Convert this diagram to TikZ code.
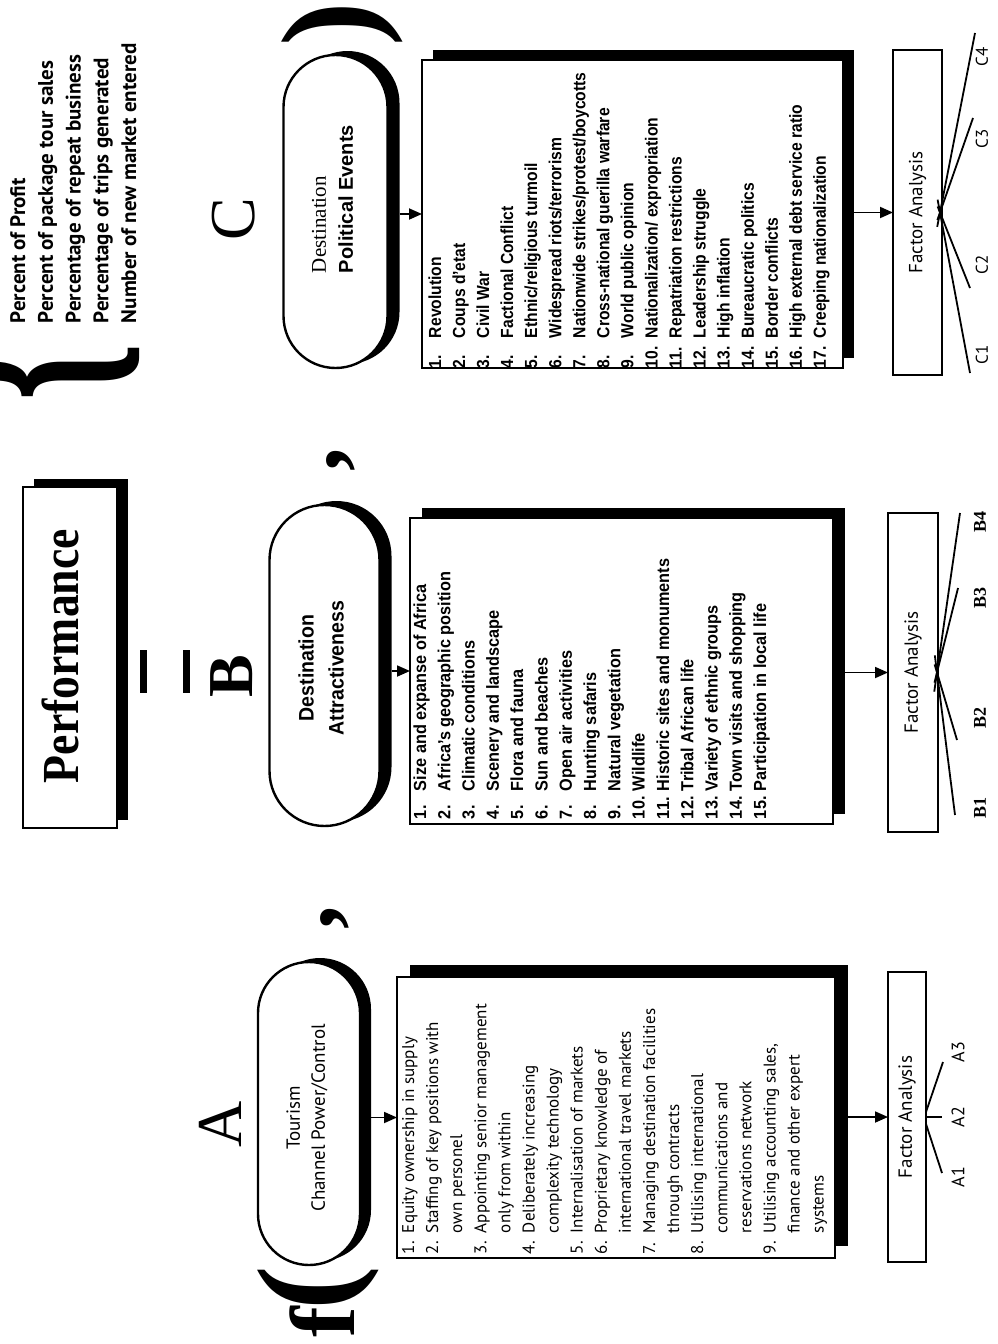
\documentclass[tikz,border=0pt]{standalone}
\usepackage{fontspec}
\setmainfont{Liberation Serif}
\newfontfamily\humsans{PT Sans}
\newfontfamily\condsans[FakeStretch=0.93]{Liberation Sans}
\newfontfamily\narrowsans[FakeStretch=0.895]{Liberation Sans}
\newfontfamily\plainsans{Liberation Sans}
\newfontfamily\titleserif[FakeStretch=0.88]{Liberation Serif}
\usetikzlibrary{arrows.meta,shadows,calc}
\newcommand\itemno[2]{\makebox[#1][l]{#2}}
\newcommand\fs[2]{\fontsize{#1}{#2}\selectfont}

\begin{document}
\begin{tikzpicture}[x=1pt,y=1pt,
  frame/.style={draw, line width=2.4pt, fill=white, inner sep=0pt, outer sep=0pt},
  blackshadow/.style 2 args={drop shadow={shadow xshift=#1, shadow yshift=#2, fill=black, opacity=1}},
  upright/.style={rotate=90, inner sep=0pt, outer sep=0pt},
  arr/.style={line width=1.8pt, -{Triangle[length=13pt,width=11pt]}},
  fan/.style={line width=1.8pt},
  biglet/.style={upright, font=\fs{64}{64}},
  listA/.style={upright, anchor=base west, font=\humsans\fs{17}{24.1}},
  listB/.style={upright, anchor=base west, font=\condsans\bfseries\fs{17.5}{24.3}},
  listC/.style={upright, anchor=base west, font=\narrowsans\bfseries\fs{17.5}{24.06}},
  falabel/.style={upright, font=\humsans\fs{19}{19}},
  lblA/.style={upright, font=\humsans\fs{18}{18}},
  lblB/.style={upright, font=\bfseries\fs{18}{18}},
  lblC/.style={upright, font=\humsans\fs{17}{17}}]

\fill[white] (0,0) rectangle (998,-1344);
\useasboundingbox (0,0) rectangle (998,-1344);

% ---------- Performance = f( ... ) ----------
\node[frame, blackshadow={11pt}{8pt}, minimum width=94pt, minimum height=341pt] (perf) at (70,-657.5) {};
\node[upright, anchor=base, font=\titleserif\bfseries\fs{52}{52}] (perftext) at (78,-656) {Performance};
\draw[line width=7pt] (143.5,-650) -- (143.5,-693);
\draw[line width=7pt] (186,-650) -- (186,-693);

% measures of performance with their brace
\node[upright, font=\bfseries\fs{150}{150}] (brace) at (28,-372) {\scalebox{1}[1.8]{\{}};
\node[upright, anchor=base west, font=\humsans\bfseries\fs{21}{27.8}] (measures) at (25,-323)
  {\parbox[t]{300pt}{\raggedright\fs{21}{27.8}Percent of Profit\\
   Percent of package tour sales\\
   Percentage of repeat business\\
   Percentage of trips generated\\
   Number of new market entered}};

% function brackets and separators
\node[upright, font=\bfseries\fs{92}{92}] (ff) at (322,-1322) {f};
\node[upright, font=\bfseries\fs{134}{134}] (lparen) at (318,-1288) {(};
\node[upright, font=\bfseries\fs{134}{134}] (rparen) at (342,-24) {)};
\node[upright, font=\bfseries\fs{95}{95}] (commaA) at (335,-918) {,};
\node[upright, font=\bfseries\fs{95}{95}] (commaB) at (341,-460) {,};

% ---------- group letters ----------
\node[biglet] (letA) at (220,-1124) {A};
\node[biglet, font=\bfseries\fs{64}{64}] (letB) at (232,-676) {B};
\node[biglet] (letC) at (234,-219) {C};

% ---------- pills ----------
\node[frame, rounded corners=51pt, blackshadow={11pt}{4pt}, minimum width=102pt, minimum height=303pt] (pillA) at (309,-1113.5) {};
\node[upright, align=center, font=\humsans\fs{19}{25}] (pillAtext) at (307,-1118) {Tourism\\Channel Power/Control};

\node[frame, rounded corners=55pt, blackshadow={12pt}{4pt}, minimum width=110pt, minimum height=321pt] (pillB) at (324.5,-665.5) {};
\node[upright, align=center, font=\condsans\bfseries\fs{21}{30}] (pillBtext) at (321,-668) {Destination\\Attractiveness};

\node[frame, rounded corners=52pt, blackshadow={12pt}{4pt}, minimum width=104pt, minimum height=313pt] (pillC) at (335.5,-211.5) {};
\node[upright, anchor=west, align=left, font=\fs{21}{27}] (pillCtext) at (332.5,-273) {Destination\\{\plainsans\bfseries\fs{20}{27}Political Events}};

% ---------- item boxes ----------
\node[frame, blackshadow={13pt}{12pt}, minimum width=438pt, minimum height=281pt] (boxA) at (616,-1117.5) {};
\node[listA] (itemsA) at (414,-1254) {\parbox[t]{420pt}{\raggedright\fs{17}{24.1}%
 \itemno{21pt}{1.}Equity ownership in supply\\
 \itemno{21pt}{2.}Staffing of key positions with\\
 \itemno{21pt}{}own personel\\
 \itemno{21pt}{3.}Appointing senior management\\
 \itemno{21pt}{}only from within\\
 \itemno{21pt}{4.}Deliberately increasing\\
 \itemno{21pt}{}complexity technology\\
 \itemno{21pt}{5.}Internalisation of markets\\
 \itemno{21pt}{6.}Proprietary knowledge of\\
 \itemno{21pt}{}international travel markets\\
 \itemno{21pt}{7.}Managing destination facilities\\
 \itemno{21pt}{}through contracts\\
 \itemno{21pt}{8.}Utilising international\\
 \itemno{21pt}{}communications and\\
 \itemno{21pt}{}reservations network\\
 \itemno{21pt}{9.}Utilising accounting sales,\\
 \itemno{21pt}{}finance and other expert\\
 \itemno{21pt}{}systems}};

\node[frame, blackshadow={12pt}{10pt}, minimum width=423pt, minimum height=306pt] (boxB) at (621.5,-671) {};
\node[listB] (itemsB) at (426,-819) {\parbox[t]{420pt}{\raggedright\fs{17.5}{24.3}%
 \itemno{28pt}{1.}Size and expanse of Africa\\
 \itemno{28pt}{2.}Africa’s geographic position\\
 \itemno{28pt}{3.}Climatic conditions\\
 \itemno{28pt}{4.}Scenery and landscape\\
 \itemno{28pt}{5.}Flora and fauna\\
 \itemno{28pt}{6.}Sun and beaches\\
 \itemno{28pt}{7.}Open air activities\\
 \itemno{28pt}{8.}Hunting safaris\\
 \itemno{28pt}{9.}Natural vegetation\\
 \itemno{28pt}{10.}Wildlife\\
 \itemno{28pt}{11.}Historic sites and monuments\\
 \itemno{28pt}{12.}Tribal African life\\
 \itemno{28pt}{13.}Variety of ethnic groups\\
 \itemno{28pt}{14.}Town visits and shopping\\
 \itemno{28pt}{15.}Participation in local life}};

\node[frame, blackshadow={11pt}{10pt}, minimum width=421pt, minimum height=308pt] (boxC) at (632.5,-214) {};
\node[listC] (itemsC) at (441,-368) {\parbox[t]{420pt}{\raggedright\fs{17.5}{24.06}%
 \itemno{30pt}{1.}Revolution\\
 \itemno{30pt}{2.}Coups d’etat\\
 \itemno{30pt}{3.}Civil War\\
 \itemno{30pt}{4.}Factional Conflict\\
 \itemno{30pt}{5.}Ethnic/religious turmoil\\
 \itemno{30pt}{6.}Widespread riots/terrorism\\
 \itemno{30pt}{7.}Nationwide strikes/protest/boycotts\\
 \itemno{30pt}{8.}Cross-national guerilla warfare\\
 \itemno{30pt}{9.}World public opinion\\
 \itemno{30pt}{10.}Nationalization/ expropriation\\
 \itemno{30pt}{11.}Repatriation restrictions\\
 \itemno{30pt}{12.}Leadership struggle\\
 \itemno{30pt}{13.}High inflation\\
 \itemno{30pt}{14.}Bureaucratic politics\\
 \itemno{30pt}{15.}Border conflicts\\
 \itemno{30pt}{16.}High external debt service ratio\\
 \itemno{30pt}{17.}Creeping nationalization}};

% ---------- factor analysis boxes ----------
\node[frame, minimum width=38pt, minimum height=290pt] (faA) at (907,-1117) {};
\node[falabel] (faAtext) at (faA) {Factor Analysis};
\node[frame, minimum width=50pt, minimum height=319pt] (faB) at (913,-672.5) {};
\node[falabel] (faBtext) at (faB) {Factor Analysis};
\node[frame, minimum width=49pt, minimum height=325pt] (faC) at (917.5,-212.5) {};
\node[falabel] (faCtext) at (faC) {Factor Analysis};

% ---------- arrows ----------
\coordinate (pAs) at ([xshift=11pt]pillA.east);
\coordinate (pBs) at ([xshift=12pt]pillB.east);
\coordinate (pCs) at ([xshift=12pt]pillC.east);
\draw[arr] (pAs |- boxA.west) -- (boxA.west);
\draw[arr] (pBs |- boxB.west) -- (boxB.west);
\draw[arr] (pCs |- boxC.west) -- (boxC.west);
\coordinate (bAs) at ([xshift=13pt]boxA.east);
\coordinate (bBs) at ([xshift=12pt]boxB.east);
\coordinate (bCs) at ([xshift=11pt]boxC.east);
\draw[arr] (bAs |- faA.west) -- (faA.west);
\draw[arr] (bBs |- faB.west) -- (faB.west);
\draw[arr] (bCs |- faC.west) -- (faC.west);

% ---------- extracted factors ----------
\coordinate (a1e) at (942,-1173);
\coordinate (a2e) at (942,-1117);
\coordinate (a3e) at (943,-1062);
\draw[fan] ([yshift=-7pt]faA.east) -- (a1e);
\draw[fan] (faA.east) -- (a2e);
\draw[fan] ([yshift=5pt]faA.east) -- (a3e);
\node[lblA] (A1) at (958,-1177) {A1};
\node[lblA] (A2) at (958,-1117) {A2};
\node[lblA] (A3) at (958,-1052) {A3};

\coordinate (bx) at ([xshift=-1pt]faB.east);
\coordinate (b1e) at (955,-815);
\coordinate (b2e) at (957,-740);
\coordinate (b3e) at (958,-588);
\coordinate (b4e) at (960,-513);
\foreach \e in {b1e,b2e,b3e,b4e} \draw[fan] ($(bx)!-0.12!(\e)$) -- (\e);
\node[lblB] (B1) at (980,-808) {B1};
\node[lblB] (B2) at (980,-718) {B2};
\node[lblB] (B3) at (980,-598) {B3};
\node[lblB] (B4) at (980,-522) {B4};

\coordinate (cx) at ([xshift=-2pt]faC.east);
\coordinate (c1e) at (970,-373);
\coordinate (c2e) at (970,-288);
\coordinate (c3e) at (973,-118);
\coordinate (c4e) at (975,-33);
\foreach \e in {c1e,c2e,c3e,c4e} \draw[fan] ($(cx)!-0.08!(\e)$) -- (\e);
\node[lblC] (C1) at (982,-355) {C1};
\node[lblC] (C2) at (982,-265) {C2};
\node[lblC] (C3) at (982,-139) {C3};
\node[lblC] (C4) at (982,-57) {C4};
\end{tikzpicture}
\end{document}
